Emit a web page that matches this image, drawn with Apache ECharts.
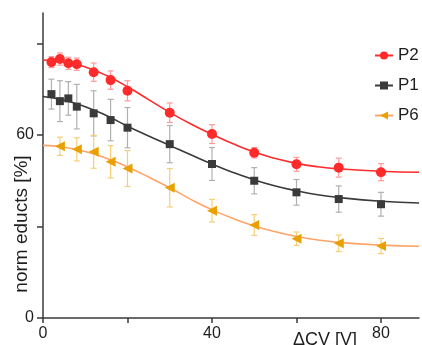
<!DOCTYPE html>
<html>
<head>
<meta charset="utf-8">
<script src="https://cdn.jsdelivr.net/npm/echarts@6/dist/echarts.min.js"></script>
<style>
  html, body { margin: 0; padding: 0; background: #fff; }
  #chart { width: 422px; height: 345px; }
</style>
</head>
<body>
<div id="chart"></div>
<script>
// measured points (x = ΔCV in V, y = norm educts in %, e = error bar half height)
const xP2 = [2, 4, 6, 8, 12, 16, 20, 30, 40, 50, 60, 70, 80]
const yP2 = [83.9, 84.9, 83.5, 83.2, 80.6, 78.0, 74.5, 67.3, 60.3, 54.2, 50.4, 49.3, 47.8]
const eP2 = [1.8, 2.0, 2.0, 2.0, 3.0, 3.0, 3.3, 3.2, 3.1, 1.7, 2.3, 3.1, 2.8]

const xP1 = [2, 4, 6, 8, 12, 16, 20, 30, 40, 50, 60, 70, 80]
const yP1 = [73.4, 71.1, 72.0, 69.3, 67.1, 64.9, 62.4, 57.0, 50.5, 45.0, 41.2, 39.0, 37.3]
const eP1 = [4.9, 6.7, 5.5, 7.3, 7.4, 6.8, 6.6, 6.1, 5.4, 4.3, 4.2, 4.3, 3.9]

const xP6 = [4, 8, 12, 16, 20, 30, 40, 50, 60, 70, 80]
const yP6 = [56.3, 55.3, 54.5, 51.2, 49.0, 42.7, 35.2, 30.5, 26.0, 24.5, 23.6]
const eP6 = [3.0, 3.8, 5.4, 5.3, 5.9, 6.3, 3.7, 3.4, 2.2, 2.7, 2.5]

// fitted curves
const fitX = [0, 5, 10, 15, 20, 25, 30, 35, 40, 45, 50, 55, 60, 65, 70, 80, 89]
const fitP2 = [84.6, 84.0, 82.3, 79.5, 75.8, 71.6, 67.4, 63.6, 60.2, 57.1, 54.4, 52.3, 50.7, 49.6, 48.9, 48.1, 47.8]
const fitP1 = [72.6, 71.4, 69.3, 66.4, 62.9, 59.7, 56.6, 53.5, 50.5, 47.7, 45.3, 43.3, 41.7, 40.4, 39.5, 38.3, 37.7]
const fitP6 = [56.6, 56.0, 54.6, 52.4, 49.5, 46.2, 42.7, 38.9, 35.5, 32.6, 30.2, 28.3, 26.7, 25.6, 24.8, 23.9, 23.5]

const xLabels = [0, 40, 80]
const yLabels = [0, 60]

const font = 'Liberation Sans, Arial, sans-serif'
const axisColor = '#3a3a3a'

const pairs = (xs, ys) => xs.map((x, i) => [x, ys[i]])
const bars = (xs, ys, es) => xs.map((x, i) => [x, ys[i] - es[i], ys[i] + es[i]])

const errorBars = (name, data, color) => ({
  name: name,
  type: 'custom',
  z: 1,
  silent: true,
  encode: { x: 0, y: [1, 2] },
  data: data,
  renderItem: (params, api) => {
    const lo = api.coord([api.value(0), api.value(1)])
    const hi = api.coord([api.value(0), api.value(2)])
    const w = 3
    const style = { stroke: color, lineWidth: 1.2 }
    return {
      type: 'group',
      children: [
        { type: 'line', shape: { x1: lo[0], y1: lo[1], x2: hi[0], y2: hi[1] }, style: style },
        { type: 'line', shape: { x1: lo[0] - w, y1: lo[1], x2: lo[0] + w, y2: lo[1] }, style: style },
        { type: 'line', shape: { x1: hi[0] - w, y1: hi[1], x2: hi[0] + w, y2: hi[1] }, style: style }
      ]
    }
  }
})

const curve = (name, ys, lineColor, markColor, symbol, size, rotate) => ({
  name: name,
  type: 'line',
  z: 2,
  smooth: 0.5,
  showSymbol: false,
  symbol: symbol,
  symbolSize: size,
  symbolRotate: rotate,
  silent: true,
  itemStyle: { color: markColor },
  lineStyle: { color: lineColor, width: 1.6 },
  data: pairs(fitX, ys)
})

const points = (name, data, color, symbol, size, rotate) => ({
  name: name,
  type: 'scatter',
  z: 3,
  symbol: symbol,
  symbolSize: size,
  symbolRotate: rotate,
  itemStyle: { color: color, opacity: 1 },
  data: data
})

const chart = echarts.init(document.getElementById('chart'))
const option = {
  animation: false,
  backgroundColor: '#fff',
  textStyle: { fontFamily: font },
  grid: { left: 43, right: 3, top: 13, bottom: 27, containLabel: false, outerBoundsMode: 'none' },
  legend: {
    orient: 'vertical',
    left: 369,
    top: 42,
    itemWidth: 18,
    itemHeight: 10,
    itemGap: 13,
    data: ['P2', 'P1', 'P6'],
    textStyle: { fontSize: 17, color: '#1e1e1e', fontFamily: font }
  },
  xAxis: {
    type: 'value',
    min: 0,
    max: 89,
    interval: 20,
    name: 'ΔCV [V]',
    nameLocation: 'middle',
    nameGap: 13,
    nameMoveOverlap: false,
    nameTextStyle: { fontSize: 18, color: '#1e1e1e', fontFamily: font, padding: [0, 0, 0, 188] },
    splitLine: { show: false },
    axisLine: { lineStyle: { color: axisColor, width: 1.5 } },
    axisTick: { length: 5, lineStyle: { color: axisColor, width: 1.5 } },
    axisLabel: {
      fontSize: 16,
      color: '#1e1e1e',
      margin: 8,
      showMaxLabel: false,
      formatter: v => (xLabels.includes(v) ? String(v) : '')
    }
  },
  yAxis: {
    type: 'value',
    min: 0,
    max: 100,
    interval: 30,
    name: 'norm educts [%]',
    nameLocation: 'middle',
    nameGap: 12,
    nameMoveOverlap: false,
    nameTextStyle: { fontSize: 19, color: '#1e1e1e', fontFamily: font, padding: [0, 117, 0, 0] },
    splitLine: { show: false },
    axisLine: { show: true, lineStyle: { color: axisColor, width: 1.5 } },
    axisTick: { show: true, length: 6, lineStyle: { color: axisColor, width: 1.5 } },
    axisLabel: {
      fontSize: 16,
      color: '#1e1e1e',
      margin: 9,
      showMaxLabel: false,
      formatter: v => (yLabels.includes(v) ? String(v) : '')
    }
  },
  series: [
    curve('P2', fitP2, '#ff2a2a', '#ff2a2a', 'circle', 10, 0),
    curve('P1', fitP1, '#3a3a3a', '#3a3a3a', 'rect', 8, 0),
    curve('P6', fitP6, '#ffa468', '#e8a100', 'triangle', 10, 90),
    errorBars('P2 error', bars(xP2, yP2, eP2), '#ff9a9a'),
    errorBars('P1 error', bars(xP1, yP1, eP1), '#b0b0b0'),
    errorBars('P6 error', bars(xP6, yP6, eP6), '#f5cf78'),
    points('P2', pairs(xP2, yP2), '#ff2a2a', 'circle', 10, 0),
    points('P1', pairs(xP1, yP1), '#3a3a3a', 'rect', 8, 0),
    points('P6', pairs(xP6, yP6), '#e8a100', 'triangle', 10, 90)
  ]
}
chart.setOption(option)
</script>
</body>
</html>
